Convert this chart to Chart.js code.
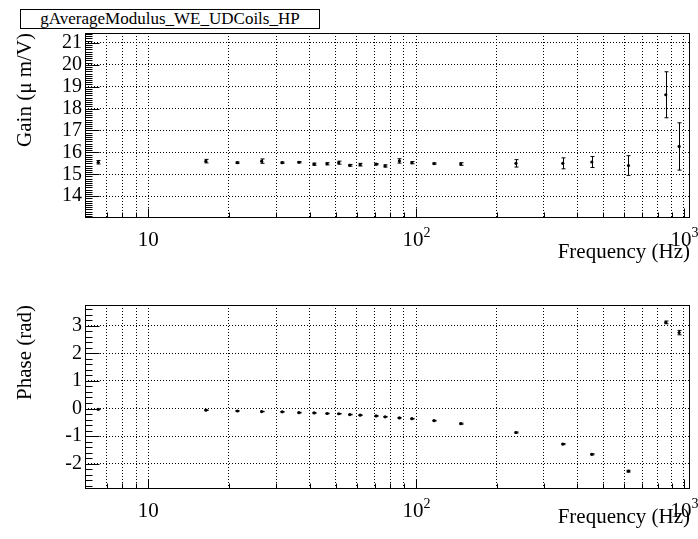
<!DOCTYPE html>
<html>
<head>
<meta charset="utf-8">
<script src="https://cdn.jsdelivr.net/npm/chart.js@4/dist/chart.umd.min.js"></script>
<style>
html, body { margin: 0; padding: 0; background: #fff; }
#wrap { position: relative; width: 698px; height: 539px; overflow: hidden; }
#gain, #phase { position: absolute; left: 0; }
#gain { top: 0; }
#phase { top: 270px; }
#title { position: absolute; left: 20px; top: 9px; width: 298px; height: 18px; border: 1px solid #000;
  background: #fff; font: 17px 'Liberation Serif', serif; text-align: center; line-height: 18px; }
</style>
</head>
<body>
<div id="wrap">
  <canvas id="gain" width="698" height="270"></canvas>
  <canvas id="phase" width="698" height="269"></canvas>
  <div id="title">gAverageModulus_WE_UDCoils_HP</div>
</div>
<script>
// frequencies (Hz) of the measured points
const freq = [6.5, 16.4, 21.5, 26.5, 31.6, 36.5, 41.6, 46.5, 51.4, 56.5, 61.8, 70.9,
  76.6, 86.6, 96.4, 116.7, 146.8, 236, 353, 453, 621, 856, 960];
const gain = [15.55, 15.6, 15.53, 15.6, 15.53, 15.55, 15.46, 15.48, 15.53, 15.41, 15.44, 15.46,
  15.38, 15.61, 15.53, 15.49, 15.47, 15.5, 15.5, 15.56, 15.4, 18.63, 16.27];
const gainErr = [0.08, 0.08, 0.03, 0.1, 0.03, 0.03, 0.05, 0.05, 0.07, 0.04, 0.06, 0.03,
  0.05, 0.1, 0.05, 0.03, 0.06, 0.17, 0.25, 0.25, 0.45, 1.05, 1.08];
const phase = [-0.03, -0.06, -0.09, -0.11, -0.12, -0.15, -0.16, -0.18, -0.19, -0.22, -0.24, -0.27,
  -0.3, -0.34, -0.37, -0.44, -0.55, -0.87, -1.29, -1.66, -2.27, 3.12, 2.75];
const phaseErr = [0.01, 0.01, 0.01, 0.01, 0.01, 0.01, 0.01, 0.01, 0.01, 0.01, 0.01, 0.01,
  0.01, 0.01, 0.01, 0.01, 0.02, 0.02, 0.02, 0.02, 0.03, 0.05, 0.08];

const xTicks = [7, 8, 9, 10, 20, 30, 40, 50, 60, 70, 80, 90, 100, 200, 300, 400, 500, 600, 700, 800, 900, 1000];
const xDecades = [[10, ''], [100, '2'], [1000, '3']];
const gainTicks = [14, 15, 16, 17, 18, 19, 20, 21];
const phaseTicks = [-2, -1, 0, 1, 2, 3];

const serif = "'Liberation Serif', 'Times New Roman', serif";

function rootStyle(ys, errs, minorStep, yTitle, xTitleBase) {
  return {
    id: 'rootStyle',
    afterDatasetsDraw(chart) {
      const { ctx, scales: { x, y } } = chart;
      ctx.save();
      ctx.strokeStyle = '#000';
      ctx.lineWidth = 1;
      ctx.beginPath();
      ys.forEach((v, i) => {
        const px = Math.round(x.getPixelForValue(freq[i])) + 0.5;
        const y1 = y.getPixelForValue(v - errs[i]);
        const y2 = y.getPixelForValue(v + errs[i]);
        ctx.moveTo(px, y1); ctx.lineTo(px, y2);
        ctx.moveTo(px - 2, y1); ctx.lineTo(px + 2, y1);
        ctx.moveTo(px - 2, y2); ctx.lineTo(px + 2, y2);
      });
      ctx.stroke();
      ctx.restore();
    },
    afterDraw(chart) {
      const { ctx, chartArea: a, scales: { x, y } } = chart;
      ctx.save();
      ctx.strokeStyle = '#000';
      ctx.fillStyle = '#000';
      ctx.lineWidth = 1;
      // frame
      ctx.strokeRect(Math.round(a.left) + 0.5, Math.round(a.top) + 0.5,
        Math.round(a.right - a.left), Math.round(a.bottom - a.top));
      ctx.beginPath();
      // y ticks (inside the frame)
      const lx = Math.round(a.left) + 0.5;
      for (let v = Math.ceil(y.min / minorStep) * minorStep; v <= y.max; v += minorStep) {
        const py = Math.round(y.getPixelForValue(v)) + 0.5;
        const major = Math.abs(v - Math.round(v)) < 1e-6;
        ctx.moveTo(lx, py); ctx.lineTo(lx + (major ? 14 : 7), py);
      }
      // x ticks (inside, from bottom)
      const by = Math.round(a.bottom) + 0.5;
      xTicks.forEach(v => {
        const px = Math.round(x.getPixelForValue(v)) + 0.5;
        const major = [10, 100, 1000].includes(v);
        ctx.moveTo(px, by); ctx.lineTo(px, by - (major ? 9 : 5));
      });
      ctx.stroke();
      // x tick labels
      ctx.textBaseline = 'alphabetic';
      xDecades.forEach(([v, sup]) => {
        const px = x.getPixelForValue(v);
        ctx.font = '21px ' + serif;
        const w = ctx.measureText('10').width;
        ctx.textAlign = 'left';
        const x0 = px - w / 2 - (sup ? 3 : 0);
        ctx.fillText('10', x0, a.bottom + 29);
        if (sup) {
          ctx.font = '14px ' + serif;
          ctx.fillText(sup, x0 + w, a.bottom + 20);
        }
      });
      // x title
      ctx.font = '21px ' + serif;
      ctx.textAlign = 'right';
      ctx.fillText('Frequency (Hz)', 690, xTitleBase);
      // y title
      ctx.translate(31, a.top);
      ctx.rotate(-Math.PI / 2);
      ctx.textAlign = 'right';
      ctx.fillText(yTitle, 0, 0);
      ctx.restore();
    }
  };
}

function panel(id, ys, errs, yTicks, ymin, ymax, minorStep, yTitle, padTop, xAxisH, xTitleBase) {
  return new Chart(document.getElementById(id), {
    type: 'scatter',
    data: {
      datasets: [{
        data: freq.map((f, i) => ({ x: f, y: ys[i] })),
        pointRadius: 1.6,
        pointBackgroundColor: '#000',
        pointBorderWidth: 0,
        showLine: false
      }]
    },
    options: {
      responsive: false,
      animation: false,
      events: [],
      layout: { padding: { top: padTop, right: 9, left: 0, bottom: 0 } },
      plugins: { legend: { display: false }, tooltip: { enabled: false } },
      scales: {
        x: {
          type: 'logarithmic',
          min: 5.8,
          max: 1045,
          afterBuildTicks: s => { s.ticks = xTicks.map(v => ({ value: v })); },
          afterFit: s => { s.height = xAxisH; },
          ticks: { display: false, autoSkip: false },
          grid: { color: '#000', lineWidth: 1, drawTicks: false },
          border: { display: false, dash: [1, 2] }
        },
        y: {
          min: ymin,
          max: ymax,
          afterBuildTicks: s => { s.ticks = yTicks.map(v => ({ value: v })); },
          afterFit: s => { s.width = 85; },
          ticks: { color: '#000', padding: 3, autoSkip: false, font: { family: serif, size: 20 } },
          grid: { color: '#000', lineWidth: 1, drawTicks: false },
          border: { display: false, dash: [1, 2] }
        }
      }
    },
    plugins: [rootStyle(ys, errs, minorStep, yTitle, xTitleBase)]
  });
}

panel('gain', gain, gainErr, gainTicks, 13.05, 21.45, 0.1, 'Gain (\u03bc m/V)', 33, 53, 258);
panel('phase', phase, phaseErr, phaseTicks, -2.88, 3.75, 0.2, 'Phase (rad)', 35, 51, 253);
</script>
</body>
</html>
